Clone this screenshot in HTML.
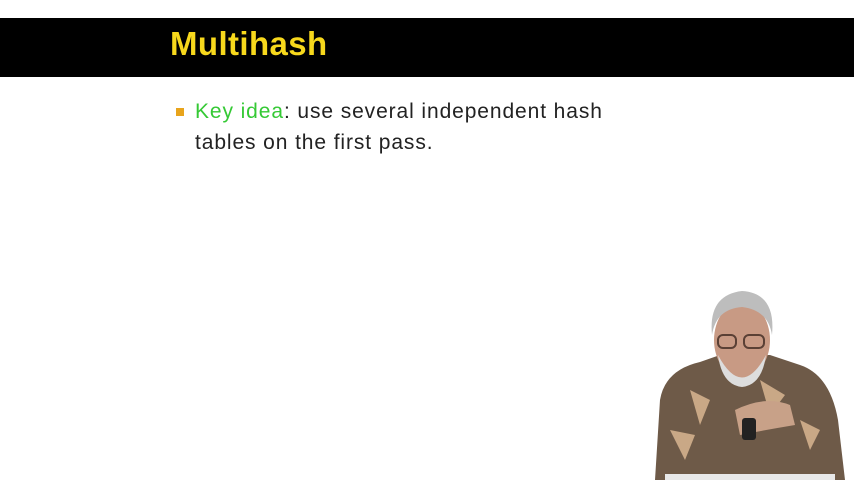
<!DOCTYPE html>
<html><head><style>
body{margin:0;width:854px;height:480px;background:#fff;position:relative;overflow:hidden;font-family:"Liberation Sans",sans-serif}
.bar{position:absolute;left:0;top:18px;width:854px;height:59px;background:#000}
.title{position:absolute;left:170px;top:25px;color:#f7d81c;font-weight:bold;font-size:33px;letter-spacing:0.4px}
.bul{position:absolute;left:176px;top:108px;width:8px;height:8px;background:#e8a41c}
.t{position:absolute;left:195px;font-size:21px;color:#222;letter-spacing:0.9px}
.g{color:#35c935}
</style></head><body>
<div class="bar"></div>
<div class="title">Multihash</div>
<div class="bul"></div>
<div class="t" style="top:100px"><span class="g">Key idea</span>: use several independent hash</div>
<div class="t" style="top:131px">tables on the first pass.</div>
<svg style="position:absolute;left:0;top:0" width="854" height="480">
<path d="M655 480 L660 400 Q665 370 700 362 L720 355 L770 355 L800 365 Q830 375 838 420 L845 480 Z" fill="#6e5a48"/>
<path d="M690 390 l20 10 l-10 25 z M760 380 l25 15 l-15 20 z M670 430 l25 5 l-10 25z M800 420 l20 10 l-10 20z" fill="#c9a886"/>
<path d="M735 410 q30 -15 55 -5 l5 20 q-30 5 -55 10z" fill="#c8a188"/>
<rect x="742" y="418" width="14" height="22" rx="3" fill="#222"/>
<ellipse cx="742" cy="340" rx="28" ry="38" fill="#c89a84"/>
<path d="M712 335 q-4 -40 30 -44 q34 2 30 44 q-4 -25 -30 -28 q-26 2 -30 28z" fill="#bdbdbd"/>
<path d="M718 355 q24 45 48 0 q-4 30 -24 32 q-20 -2 -24 -32z" fill="#ddd"/>
<rect x="718" y="335" width="18" height="13" rx="5" fill="none" stroke="#5a4035" stroke-width="2"/>
<rect x="744" y="335" width="20" height="13" rx="5" fill="none" stroke="#5a4035" stroke-width="2"/>
<rect x="665" y="474" width="170" height="6" fill="#e8e8e8"/>
</svg>
</body></html>
